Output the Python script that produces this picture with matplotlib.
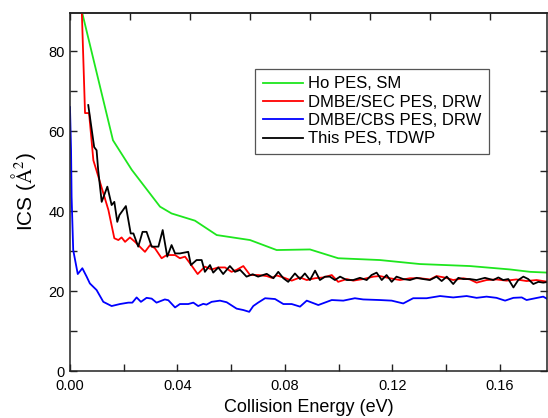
#!/usr/bin/env python3
"""
Integral cross section (ICS) vs collision energy, four PES / method comparisons
"""
import numpy as np
import matplotlib
matplotlib.use('Agg')
import matplotlib.pyplot as plt
from matplotlib.ticker import MultipleLocator

plt.rcParams['font.family'] = ['Liberation Sans', 'DejaVu Sans']
plt.rcParams['mathtext.fontset'] = 'stix'

# ── Ho PES, SM ──
e_ho = [0.0044, 0.016, 0.023, 0.0335, 0.0378, 0.0465, 0.0546, 0.067, 0.0769,
        0.0893, 0.0998, 0.1153, 0.1302, 0.1488, 0.1637, 0.1712, 0.1779]
ics_ho = [90.0, 57.7, 50.3, 41.1, 39.4, 37.6, 34.0, 32.75, 30.25,
          30.4, 28.2, 27.75, 26.75, 26.25, 25.4, 24.8, 24.6]

# ── DMBE/SEC PES, DRW ──
e_sec = [0.0044, 0.0056, 0.0071, 0.0087, 0.0102, 0.0143, 0.0165, 0.018, 0.0192,
         0.0205, 0.0223, 0.0242, 0.0279, 0.0298, 0.0316, 0.0341, 0.036, 0.0391,
         0.0409, 0.0428, 0.0447, 0.0475, 0.0502, 0.0527, 0.0552, 0.0577, 0.0601,
         0.062, 0.0645, 0.067, 0.0701, 0.0732, 0.0751, 0.0769, 0.0794, 0.0825,
         0.0856, 0.0881, 0.0912, 0.0943, 0.0974, 0.0998, 0.103, 0.1054, 0.1091,
         0.1129, 0.1153, 0.119, 0.1228, 0.1265, 0.1302, 0.134, 0.1364, 0.14,
         0.1426, 0.1463, 0.1488, 0.1513, 0.155, 0.1587, 0.1624, 0.1661, 0.1699,
         0.1736, 0.1779]
ics_sec = [90.0, 64.5, 64.5, 52.7, 49.4, 40.25, 33.2, 32.75, 33.4,
           32.3, 33.4, 32.3, 29.8, 31.5, 30.7, 28.2, 29.0, 29.0,
           28.2, 28.6, 26.9, 24.25, 26.1, 25.4, 25.9, 25.9, 24.8,
           25.3, 26.25, 24.0, 24.0, 23.75, 23.3, 23.9, 23.4, 22.6,
           23.4, 22.75, 23.2, 23.4, 24.0, 22.3, 23.0, 22.6, 23.0,
           23.6, 23.75, 23.2, 22.75, 23.2, 23.2, 22.9, 23.75, 23.3,
           22.75, 23.2, 22.9, 22.1, 22.75, 22.9, 22.6, 22.9, 22.5,
           22.75, 22.3]

# ── DMBE/CBS PES, DRW ──
e_cbs = [0.0, 0.0004, 0.0006, 0.0012, 0.0029, 0.0046, 0.0062, 0.0074, 0.0099,
         0.0124, 0.0155, 0.0186, 0.0217, 0.0232, 0.0248, 0.0264, 0.0285, 0.0304,
         0.0322, 0.0353, 0.0366, 0.0391, 0.0409, 0.044, 0.0459, 0.0477, 0.0496,
         0.0508, 0.0527, 0.0558, 0.0583, 0.062, 0.0645, 0.0667, 0.0682, 0.07,
         0.0726, 0.0763, 0.0794, 0.0825, 0.0856, 0.0881, 0.0924, 0.0974, 0.1017,
         0.106, 0.1091, 0.1153, 0.1197, 0.124, 0.1277, 0.1327, 0.1377, 0.1426,
         0.1476, 0.1513, 0.155, 0.1587, 0.1619, 0.165, 0.1681, 0.1699, 0.1724,
         0.1761, 0.1779]
ics_cbs = [66.0, 55.25, 43.6, 30.25, 24.25, 25.7, 23.6, 21.9, 20.25,
           17.3, 16.25, 16.75, 17.1, 17.1, 18.4, 17.3, 18.3, 18.1,
           17.1, 17.9, 17.7, 15.9, 16.75, 16.75, 17.1, 16.25, 16.8,
           16.6, 17.3, 17.6, 17.2, 15.6, 15.25, 14.8, 16.25, 17.1,
           18.2, 18.0, 16.75, 16.75, 16.1, 17.6, 16.5, 17.75, 17.6,
           18.2, 17.9, 17.75, 17.6, 16.9, 18.2, 18.2, 18.75, 18.4,
           18.75, 18.3, 18.6, 18.3, 17.6, 18.3, 18.4, 17.75, 18.1,
           18.6, 17.9]

# ── This PES, TDWP ──
e_tdwp = [0.0068, 0.009, 0.0099, 0.0105, 0.0118, 0.0139, 0.0155, 0.0165, 0.0176,
          0.0184, 0.0208, 0.0226, 0.0236, 0.0254, 0.027, 0.0285, 0.0304, 0.0329,
          0.0345, 0.0362, 0.0378, 0.0391, 0.0409, 0.044, 0.045, 0.0471, 0.049,
          0.0502, 0.0521, 0.0533, 0.0552, 0.057, 0.0595, 0.0614, 0.0633, 0.0657,
          0.068, 0.07, 0.0732, 0.0757, 0.0775, 0.0794, 0.0812, 0.0837, 0.0856,
          0.0874, 0.0893, 0.0912, 0.093, 0.0949, 0.0967, 0.0986, 0.1005, 0.103,
          0.1054, 0.1079, 0.1104, 0.1122, 0.1141, 0.116, 0.1178, 0.1197, 0.1215,
          0.124, 0.1265, 0.129, 0.1314, 0.1339, 0.1364, 0.1383, 0.1402, 0.1426,
          0.1445, 0.1463, 0.1488, 0.1513, 0.1544, 0.1575, 0.1594, 0.1612, 0.1631,
          0.165, 0.1668, 0.1687, 0.1705, 0.1724, 0.1743, 0.1761, 0.1779]
ics_tdwp = [66.5, 56.0, 55.2, 50.2, 42.3, 46.1, 41.5, 42.3, 37.3,
            39.0, 41.25, 34.4, 34.4, 31.1, 34.8, 34.8, 31.1, 31.1,
            35.25, 28.6, 31.5, 29.4, 29.4, 29.8, 26.5, 27.75, 27.75,
            24.8, 26.5, 24.6, 25.9, 24.25, 26.25, 24.8, 25.3, 23.6,
            24.2, 23.6, 24.3, 23.2, 24.8, 23.2, 22.3, 24.4, 23.0,
            24.4, 22.75, 25.1, 22.75, 23.6, 23.6, 22.75, 23.6, 22.75,
            22.75, 23.3, 22.75, 24.0, 24.6, 22.75, 24.0, 22.3, 23.6,
            23.0, 22.75, 23.3, 23.0, 22.75, 23.6, 22.5, 23.6, 21.75,
            23.3, 23.0, 23.0, 22.75, 23.3, 22.75, 23.4, 22.75, 23.0,
            20.9, 22.75, 23.6, 23.0, 21.75, 22.3, 22.1, 22.3]

# ── Plot ──
fig = plt.figure(figsize=(5.48, 4.18), dpi=100)
ax = fig.add_axes([0.1277, 0.1124, 0.8705, 0.8572])

lw = 1.3
ax.plot(e_ho, ics_ho, color='#1ee61e', lw=lw, label='Ho PES, SM')
ax.plot(e_sec, ics_sec, color='#ff0000', lw=lw, label='DMBE/SEC PES, DRW')
ax.plot(e_cbs, ics_cbs, color='#0000ff', lw=lw, label='DMBE/CBS PES, DRW')
ax.plot(e_tdwp, ics_tdwp, color='#000000', lw=lw, label='This PES, TDWP')

ax.set_xlim(0, 0.1775)
ax.set_ylim(0, 89.6)
ax.xaxis.set_major_locator(MultipleLocator(0.04))
ax.xaxis.set_minor_locator(MultipleLocator(0.02))
ax.yaxis.set_major_locator(MultipleLocator(20))
ax.yaxis.set_minor_locator(MultipleLocator(10))
ax.xaxis.set_major_formatter(matplotlib.ticker.FormatStrFormatter('%.2f'))
ax.tick_params(which='both', direction='in', right=True, labelsize=10.5,
               width=1.0, color='#222222', length=5)
ax.tick_params(axis='x', which='both', top=False, pad=6)

# top axis carries its own tick spacing in the original
step = 0.02233
top = ax.secondary_xaxis('top', functions=(lambda x: x / step, lambda u: u * step))
top.xaxis.set_major_locator(MultipleLocator(2))
top.xaxis.set_minor_locator(MultipleLocator(1))
top.tick_params(which='both', direction='in', labeltop=False, length=5,
                width=1.0, color='#222222')

for s in ax.spines.values():
    s.set_linewidth(1.1)
    s.set_color('#222222')
top.spines['top'].set_linewidth(1.1)
top.spines['top'].set_color('#222222')

ax.set_xlabel('Collision Energy (eV)', fontsize=13, labelpad=4)
ax.set_ylabel(r'ICS ($\mathrm{Å}^{2}$)', fontsize=15, labelpad=8)

leg = ax.legend(loc='upper right', bbox_to_anchor=(0.878, 0.843), borderaxespad=0,
                fontsize=12, fancybox=False, edgecolor='#555555', framealpha=1,
                handlelength=2.4, handletextpad=0.3, labelspacing=0.2,
                borderpad=0.45)
leg.get_frame().set_linewidth(0.9)

plt.savefig('out.png', dpi=100)
print('Done -> out.png')
